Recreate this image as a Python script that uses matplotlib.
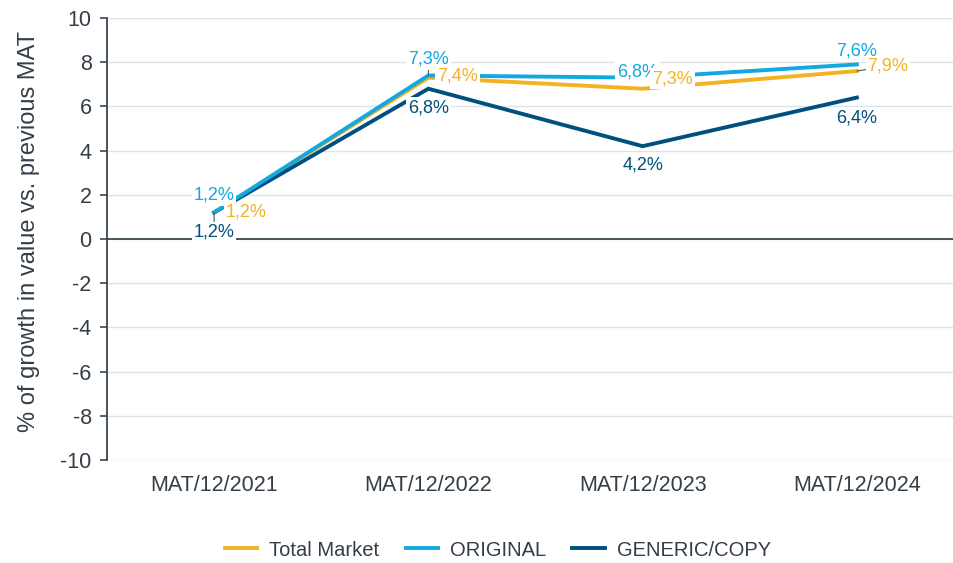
import matplotlib
matplotlib.use("Agg")
import matplotlib.pyplot as plt

plt.rcParams['font.family'] = ['Liberation Sans', 'DejaVu Sans']
plt.rcParams['axes.unicode_minus'] = False

categories = ["MAT/12/2021", "MAT/12/2022", "MAT/12/2023", "MAT/12/2024"]
series_names = ["Total Market", "ORIGINAL", "GENERIC/COPY"]
total_market = [1.2, 7.3, 6.8, 7.6]
original = [1.2, 7.4, 7.3, 7.9]
generic_copy = [1.2, 6.8, 4.2, 6.4]
# data label texts as printed on the chart
total_market_labels = ["1,2%", "7,4%", "7,3%", "7,9%"]
original_labels = ["1,2%", "7,3%", "6,8%", "7,6%"]
generic_copy_labels = ["1,2%", "6,8%", "4,2%", "6,4%"]
y_ticks = [-10, -8, -6, -4, -2, 0, 2, 4, 6, 8, 10]

colors = ["#F4B223", "#13A8E0", "#00507F"]
text_color = "#333E48"
grid_color = "#DCE3EC"

# label offsets (pixels) relative to each point, and whether a leader line is drawn
offsets = [
    [(32, 0), (29, 2), (30, 10), (31, 5)],
    [(0, 17), (0, 16), (-5, 6), (0, 13)],
    [(0, -20), (0, -19), (0, -19), (0, -20)],
]
leaders = [
    [False, False, False, True],
    [False, True, True, False],
    [True, False, False, False],
]
label_z = [8, 6, 7]

W, H = 954, 563
fig = plt.figure(figsize=(W / 100, H / 100), dpi=100)
ax = fig.add_axes([107 / W, 103 / H, (964 - 107) / W, 442 / H])

x = list(range(len(categories)))
values = [total_market, original, generic_copy]
labels = [total_market_labels, original_labels, generic_copy_labels]

for i in range(3):
    ax.plot(x, values[i], color=colors[i], lw=2.8, label=series_names[i],
            zorder=3 + (i == 1) * 0.5, solid_joinstyle='miter')

for i in range(3):
    for j in range(len(x)):
        ox, oy = offsets[i][j]
        ap = None
        if leaders[i][j]:
            ap = dict(arrowstyle='-', color='#5A6670', lw=0.9, shrinkA=0, shrinkB=0)
        ax.annotate(labels[i][j], xy=(x[j], values[i][j]), xytext=(ox, oy),
                    textcoords='offset pixels', ha='center', va='center',
                    fontsize=13, color=colors[i], zorder=label_z[i], arrowprops=ap,
                    bbox=dict(boxstyle='square,pad=0.1', fc='white', ec='none'))

ax.set_xlim(-0.5, 3.5)
ax.set_ylim(-10, 10)
ax.set_yticks(y_ticks)
ax.set_xticks(x)
ax.set_xticklabels(categories)
ax.grid(axis='y', color=grid_color, lw=1)
ax.set_axisbelow(True)
ax.axhline(0, color='#3A4750', lw=1.3, zorder=2)
for s in ['top', 'right', 'bottom']:
    ax.spines[s].set_visible(False)
ax.spines['left'].set_color('#3A4750')
ax.spines['left'].set_linewidth(1.3)
ax.tick_params(axis='y', colors='#3A4750', labelcolor=text_color, labelsize=15.5,
               length=5, width=1.2, pad=6)
ax.tick_params(axis='x', length=0, labelcolor=text_color, labelsize=15.5, pad=11)
ax.set_ylabel("% of growth in value vs. previous MAT", fontsize=17, color=text_color)
ax.yaxis.set_label_coords(-0.078, 0.518)

fig.legend(loc='center', bbox_to_anchor=(498 / W, 1 - 550 / H), ncol=3, frameon=False,
           fontsize=14.5, handlelength=1.6, columnspacing=1.3, handletextpad=0.6,
           labelcolor=text_color)

fig.savefig("out.png", dpi=100)
